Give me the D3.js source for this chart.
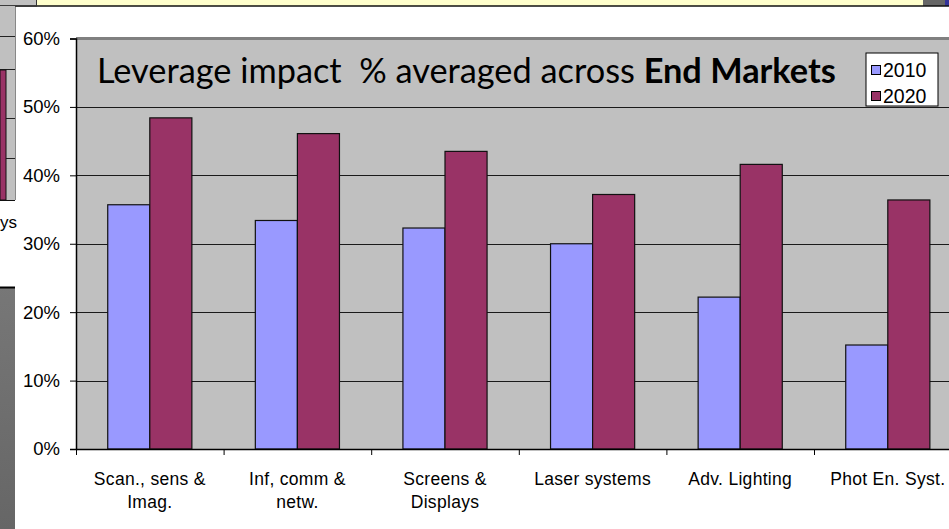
<!DOCTYPE html>
<html>
<head>
<meta charset="utf-8">
<script src="https://cdn.jsdelivr.net/npm/d3@7"></script>
<style>
  html, body { margin: 0; padding: 0; background: #ffffff; }
  svg { display: block; }
</style>
</head>
<body>
<svg id="chart" width="949" height="529"></svg>
<script>
// ---- data ----
const categories = ["Scan., sens &\nImag.", "Inf, comm &\nnetw.", "Screens &\nDisplays", "Laser systems", "Adv. Lighting", "Phot En. Syst."];
const seriesNames = ["2010", "2020"];
const values2010 = [0.357, 0.334, 0.323, 0.300, 0.222, 0.152];
const values2020 = [0.484, 0.461, 0.435, 0.372, 0.416, 0.364];
const yTicks = [0, 0.1, 0.2, 0.3, 0.4, 0.5, 0.6];
const colors = ["#9999ff", "#993366"];

const svg = d3.select("#chart");
const W = 949, H = 529;

// ---- background slide fragments ----
svg.append("rect").attr("x", 0).attr("y", 0).attr("width", W).attr("height", H).attr("fill", "#ffffff");
svg.append("rect").attr("x", 0).attr("y", 0).attr("width", 37).attr("height", 7).attr("fill", "#c0c0c0");
svg.append("rect").attr("x", 37).attr("y", 0).attr("width", 886).attr("height", 6).attr("fill", "#ffffcc");
svg.append("rect").attr("x", 923).attr("y", 0).attr("width", 22).attr("height", 6).attr("fill", "#666666");
svg.append("rect").attr("x", 945).attr("y", 0).attr("width", 4).attr("height", 6).attr("fill", "#333399");
svg.append("line").attr("x1", 0).attr("x2", W).attr("y1", 6).attr("y2", 6).attr("stroke", "#111").attr("stroke-width", 1.5);
svg.append("line").attr("x1", 36.5).attr("x2", 36.5).attr("y1", 0).attr("y2", 6).attr("stroke", "#333");
svg.append("rect").attr("x", 0).attr("y", 6).attr("width", 15).attr("height", 194).attr("fill", "#c0c0c0");
[36, 69, 118, 158].forEach(yy => svg.append("line").attr("x1", 0).attr("x2", 15).attr("y1", yy + 0.5).attr("y2", yy + 0.5).attr("stroke", "#222"));
svg.append("rect").attr("x", 0).attr("y", 70).attr("width", 6).attr("height", 130).attr("fill", "#993366").attr("stroke", "#111");
svg.append("line").attr("x1", 0).attr("x2", 15).attr("y1", 200.5).attr("y2", 200.5).attr("stroke", "#111");
svg.append("line").attr("x1", 15.5).attr("x2", 15.5).attr("y1", 7).attr("y2", 200).attr("stroke", "#888");
svg.append("text").attr("x", 0).attr("y", 228)
  .attr("font-family", "Liberation Sans, Arial, sans-serif").attr("font-size", 17).attr("fill", "#000").text("ys");
const grad = svg.append("defs").append("linearGradient").attr("id", "dg").attr("x1", 0).attr("x2", 0).attr("y1", 0).attr("y2", 1);
grad.append("stop").attr("offset", "0%").attr("stop-color", "#777");
grad.append("stop").attr("offset", "100%").attr("stop-color", "#666");
svg.append("rect").attr("x", 0).attr("y", 287).attr("width", 15).attr("height", H - 287).attr("fill", "url(#dg)");
svg.append("line").attr("x1", 0).attr("x2", 15).attr("y1", 287.5).attr("y2", 287.5).attr("stroke", "#000").attr("stroke-width", 2);

// ---- main chart ----
const pL = 76, pR = 961.6, pT = 38.5, pB = 449;
const y = d3.scaleLinear().domain([0, 0.6]).range([pB, pT]);
const x = d3.scaleBand().domain(categories).range([pL, pR]).paddingInner(0.43).paddingOuter(0.215);
const x1 = d3.scaleBand().domain(seriesNames).range([0, x.bandwidth()]).padding(0);
const xb = d3.scaleLinear().domain([0, categories.length]).range([pL, pR]);

svg.append("rect").attr("x", pL).attr("y", pT).attr("width", pR - pL).attr("height", pB - pT).attr("fill", "#c0c0c0");
svg.append("g").selectAll("line").data(yTicks.filter(d => d > 0 && d < 0.6)).join("line")
  .attr("x1", pL).attr("x2", pR)
  .attr("y1", d => Math.round(y(d)) + 0.5).attr("y2", d => Math.round(y(d)) + 0.5)
  .attr("stroke", "#1a1a1a").attr("stroke-width", 1);
svg.append("line").attr("x1", pL).attr("x2", pR).attr("y1", pT).attr("y2", pT).attr("stroke", "#808080").attr("stroke-width", 3);

const series = [values2010, values2020];
const groups = svg.append("g").selectAll("g").data(categories).join("g")
  .attr("transform", d => `translate(${x(d)},0)`);
groups.selectAll("rect").data((d, i) => seriesNames.map((s, k) => ({ s, v: series[k][i], k }))).join("rect")
  .attr("x", d => x1(d.s)).attr("width", x1.bandwidth())
  .attr("y", d => y(d.v)).attr("height", d => y(0) - y(d.v))
  .attr("fill", d => colors[d.k]).attr("stroke", "#111").attr("stroke-width", 1.2);

const yAxis = svg.append("g").attr("transform", `translate(${pL},0)`)
  .call(d3.axisLeft(y).tickValues(yTicks).tickFormat(d3.format(".0%")).tickSize(6).tickPadding(10));
yAxis.select(".domain").attr("stroke", "#000").attr("stroke-width", 1.5);
yAxis.selectAll(".tick line").attr("stroke", "#000");
yAxis.selectAll(".tick text").attr("font-family", "Liberation Sans, Arial, sans-serif").attr("font-size", 18.5).attr("fill", "#000");

const xAxis = svg.append("g").attr("transform", `translate(0,${pB})`)
  .call(d3.axisBottom(xb).tickValues(d3.range(categories.length + 1)).tickFormat("").tickSize(6).tickSizeOuter(0));
xAxis.select(".domain").attr("stroke", "#000").attr("stroke-width", 1.5);
xAxis.selectAll(".tick line").attr("stroke", "#000");

const labs = svg.append("g").selectAll("text").data(categories).join("text")
  .attr("x", d => x(d) + x.bandwidth() / 2).attr("y", 485)
  .attr("text-anchor", "middle").attr("letter-spacing", 0.3)
  .attr("font-family", "Liberation Sans, Arial, sans-serif").attr("font-size", 17.5).attr("fill", "#000");
labs.selectAll("tspan").data(d => d.split("\n")).join("tspan")
  .attr("x", function () { return this.parentNode.getAttribute("x"); })
  .attr("dy", (d, i) => i === 0 ? 0 : 23).text(d => d);

const title = svg.append("text").attr("x", 97).attr("y", 83)
  .attr("font-family", "Lato, 'Open Sans', sans-serif").attr("font-size", 30).attr("fill", "#000")
  .style("white-space", "pre");
title.append("tspan").text("Leverage impact  % averaged across ");
title.append("tspan").attr("font-weight", "bold").text("End Markets");
const tw = title.node().getComputedTextLength();
title.attr("font-size", 30 * 739 / tw);

const lg = svg.append("g");
lg.append("rect").attr("x", 866).attr("y", 53).attr("width", 72).attr("height", 53).attr("fill", "#fff").attr("stroke", "#000").attr("stroke-width", 1);
seriesNames.forEach((s, k) => {
  const cy = 70 + k * 26;
  lg.append("rect").attr("x", 871.5).attr("y", cy - 4.5).attr("width", 9).attr("height", 9)
    .attr("fill", colors[k]).attr("stroke", "#000").attr("stroke-width", 1);
  lg.append("text").attr("x", 883).attr("y", cy).attr("dy", "0.36em")
    .attr("font-family", "Liberation Sans, Arial, sans-serif").attr("font-size", 19.5).attr("fill", "#000").text(s);
});
</script>
</body>
</html>
